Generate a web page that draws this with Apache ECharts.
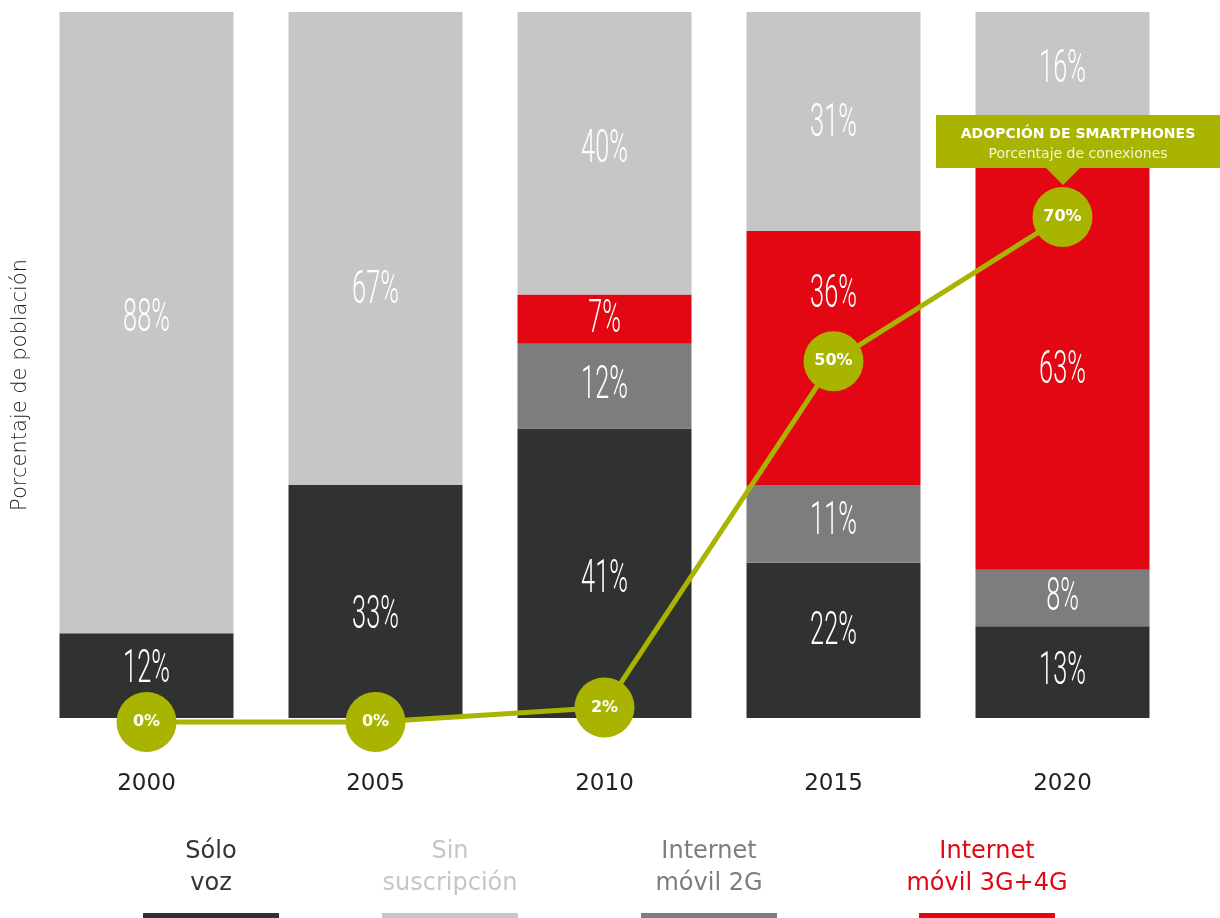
<!DOCTYPE html>
<html>
<head>
<meta charset="utf-8">
<script src="https://cdn.jsdelivr.net/npm/echarts@6/dist/echarts.min.js"></script>
<style>
html, body { margin: 0; padding: 0; background: #fff; }
#chart { width: 1220px; height: 918px; }
</style>
</head>
<body>
<div id="chart"></div>
<script>
// datos
var years = ['2000', '2005', '2010', '2015', '2020'];
var soloVoz = [12, 33, 41, 22, 13];
var movil2G = [0, 0, 12, 11, 8];
var movil3G4G = [0, 0, 7, 36, 63];
var sinSuscripcion = [88, 67, 40, 31, 16];
var smartphones = [0, 0, 2, 50, 70];

var C_VOZ = '#303131';
var C_SIN = '#c6c6c6';
var C_2G = '#7d7d7d';
var C_3G = '#e30613';
var C_GREEN = '#a8b400';
var FONT = 'DejaVu Sans';

// desplazamiento vertical (px) de las etiquetas, como en el original
var nudge = [
  [-5, 15, 7, -8, 0],   // voz
  [0, 0, 0, -1, 1],     // 2G
  [0, 0, 1, -62, 24],   // 3G+4G
  [-3, 43, -3, 3, 2]    // sin suscripcion
];

// etiquetas centradas en cada tramo de la pila
var stackOrder = [soloVoz, movil2G, movil3G4G, sinSuscripcion];
var labelData = [];
var labelNudge = [];
for (var i = 0; i < years.length; i++) {
  var base = 0;
  for (var s = 0; s < stackOrder.length; s++) {
    var v = stackOrder[s][i];
    if (v > 0) {
      labelData.push([i, base + v / 2, v]);
      labelNudge.push(nudge[s][i]);
    }
    base += v;
  }
}

function nz(arr) {
  return arr.map(function (v) { return v > 0 ? v : null; });
}

function barSeries(name, data, color) {
  return {
    name: name,
    type: 'bar',
    stack: 'total',
    barWidth: 174,
    data: nz(data),
    itemStyle: { color: color },
    silent: true
  };
}

var chart = echarts.init(document.getElementById('chart'));

var legendItems = [
  { text: 'Sólo\nvoz', color: '#333333', bar: C_VOZ, cx: 211 },
  { text: 'Sin\nsuscripción', color: C_SIN, bar: C_SIN, cx: 450 },
  { text: 'Internet\nmóvil 2G', color: C_2G, bar: C_2G, cx: 709 },
  { text: 'Internet\nmóvil 3G+4G', color: C_3G, bar: C_3G, cx: 987 }
];

var graphics = [];
legendItems.forEach(function (it) {
  graphics.push({
    type: 'text',
    x: it.cx,
    y: 868,
    style: {
      text: it.text,
      fill: it.color,
      font: '24px "' + FONT + '"',
      lineHeight: 32,
      align: 'center',
      verticalAlign: 'middle'
    }
  });
  graphics.push({
    type: 'rect',
    shape: { x: it.cx - 68, y: 913, width: 136, height: 6 },
    style: { fill: it.bar }
  });
});

// caja de anotacion
graphics.push({
  type: 'group',
  z: 100,
  children: [
    { type: 'rect', z: 100, shape: { x: 936, y: 115, width: 284, height: 53 }, style: { fill: C_GREEN } },
    { type: 'polygon', z: 100, shape: { points: [[1045, 167], [1081, 167], [1063, 185]] }, style: { fill: C_GREEN } },
    { type: 'text', z: 101, x: 1078, y: 134, style: { text: 'ADOPCIÓN DE SMARTPHONES', fill: '#fff', font: 'bold 14px "' + FONT + '"', align: 'center', verticalAlign: 'middle' } },
    { type: 'text', z: 101, x: 1078, y: 154, style: { text: 'Porcentaje de conexiones', fill: '#f3f5d8', font: '14px "' + FONT + '"', align: 'center', verticalAlign: 'middle' } }
  ]
});

var option = {
  animation: false,
  grid: { left: 32, right: 43, top: 12, bottom: 200, containLabel: false, outerBoundsMode: 'none' },
  xAxis: {
    type: 'category',
    data: years,
    axisLine: { show: false },
    axisTick: { show: false },
    axisLabel: {
      color: '#222',
      fontSize: 23,
      fontFamily: FONT,
      margin: 55
    }
  },
  yAxis: [
    {
      type: 'value',
      min: 0,
      max: 100,
      axisLabel: { show: false },
      axisLine: { show: false },
      axisTick: { show: false },
      splitLine: { show: false },
      name: 'Porcentaje de población',
      nameLocation: 'middle',
      nameGap: 1,
      nameTextStyle: {
        color: '#222',
        fontSize: 21,
        fontWeight: 200,
        fontFamily: FONT,
        padding: [0, 40, 0, 0]
      }
    },
    {
      // escala de la linea, un poco desplazada como en el original
      type: 'value',
      min: 0.55,
      max: 98.42,
      show: false
    }
  ],
  graphic: graphics,
  series: [
    barSeries('Sólo voz', soloVoz, C_VOZ),
    barSeries('Internet móvil 2G', movil2G, C_2G),
    barSeries('Internet móvil 3G+4G', movil3G4G, C_3G),
    barSeries('Sin suscripción', sinSuscripcion, C_SIN),
    {
      name: 'etiquetas',
      type: 'custom',
      data: labelData,
      z: 3,
      silent: true,
      renderItem: function (params, api) {
        var p = api.coord([api.value(0), api.value(1)]);
        return {
          type: 'text',
          x: p[0],
          y: p[1] + labelNudge[params.dataIndex],
          scaleX: 0.55,
          style: {
            text: api.value(2) + '%',
            fill: '#fff',
            fontSize: 46,
            fontFamily: 'Roboto',
            fontWeight: 300,
            align: 'center',
            verticalAlign: 'middle'
          }
        };
      }
    },
    {
      name: 'Adopción de smartphones',
      type: 'line',
      yAxisIndex: 1,
      data: smartphones,
      clip: false,
      z: 5,
      symbol: 'circle',
      symbolSize: 60,
      lineStyle: { color: C_GREEN, width: 5 },
      itemStyle: { color: C_GREEN },
      label: {
        show: true,
        position: 'inside',
        formatter: '{c}%',
        color: '#fff',
        fontSize: 16,
        fontWeight: 'bold',
        fontFamily: FONT
      }
    }
  ]
};

chart.setOption(option);
</script>
</body>
</html>
